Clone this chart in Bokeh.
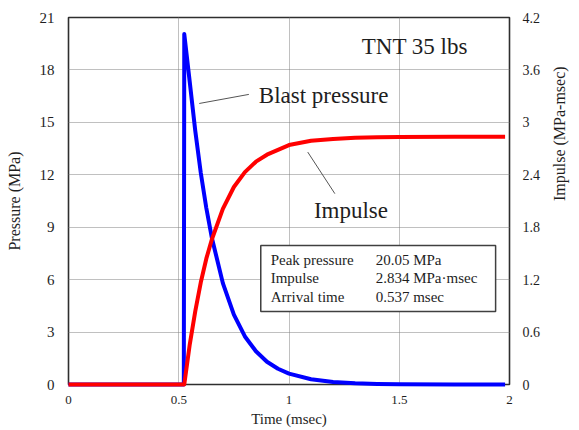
import math
from bokeh.plotting import figure
from bokeh.models import Range1d, LinearAxis, FixedTicker, Label, BoxAnnotation, Arrow
from bokeh.embed import file_html
from bokeh.resources import INLINE

# ---- data ----
time_p = [0.0, 0.523, 0.525, 0.55, 0.575, 0.6, 0.625, 0.65, 0.7, 0.75, 0.8,
          0.85, 0.9, 0.95, 1.0, 1.1, 1.2, 1.3, 1.4, 1.5, 1.75, 1.98]
pressure = [0, 0, 20.05, 17.3, 14.5, 12.1, 10.1, 8.4, 5.8, 4.0, 2.75,
            1.9, 1.3, 0.9, 0.62, 0.3, 0.14, 0.07, 0.03, 0.01, 0, 0]
time_i = [0.0, 0.525, 0.55, 0.575, 0.6, 0.625, 0.65, 0.7, 0.75, 0.8, 0.85,
          0.9, 1.0, 1.1, 1.2, 1.3, 1.4, 1.5, 1.75, 1.98]
impulse = [0, 0, 0.46, 0.84, 1.17, 1.44, 1.66, 2.01, 2.26, 2.43, 2.55,
           2.63, 2.74, 2.79, 2.81, 2.825, 2.83, 2.832, 2.834, 2.834]

x_ticks = [0, 0.5, 1, 1.5, 2]
x_tick_labels = ["0", "0.5", "1", "1.5", "2"]
p_ticks = [0, 3, 6, 9, 12, 15, 18, 21]
p_tick_labels = ["0", "3", "6", "9", "12", "15", "18", "21"]
i_ticks = [0, 0.6, 1.2, 1.8, 2.4, 3.0, 3.6, 4.2]
i_tick_labels = ["0", "0.6", "1.2", "1.8", "2.4", "3", "3.6", "4.2"]

info_names = ["Peak pressure", "Impulse", "Arrival time"]
info_values = ["20.05  MPa", "2.834  MPa\u00b7msec", "0.537  msec"]

FONT = "Liberation Serif"
TXT = "#1e1e1e"

p = figure(width=579, height=430, output_backend="svg", toolbar_location=None,
           x_range=Range1d(0, 2), y_range=Range1d(0, 21),
           min_border_left=68, min_border_right=66, min_border_top=17,
           min_border_bottom=46)
p.extra_y_ranges = {"imp": Range1d(0, 4.2)}
p.background_fill_color = "white"
p.border_fill_color = "white"
p.outline_line_color = "#2e2e2e"
p.outline_line_width = 1.6

# axes
xa = p.xaxis[0]
xa.ticker = FixedTicker(ticks=x_ticks)
xa.major_label_overrides = dict(zip(x_ticks, x_tick_labels))
ya = p.yaxis[0]
ya.ticker = FixedTicker(ticks=p_ticks)
ya.major_label_overrides = dict(zip(p_ticks, p_tick_labels))
ra = LinearAxis(y_range_name="imp", ticker=FixedTicker(ticks=i_ticks))
ra.major_label_overrides = dict(zip(i_ticks, i_tick_labels))
p.add_layout(ra, "right")

for ax, size, standoff in [(xa, "13px", 11), (ya, "15px", 14), (ra, "14px", 13)]:
    ax.axis_line_color = None
    ax.major_tick_line_color = None
    ax.minor_tick_line_color = None
    ax.major_tick_out = 0
    ax.major_tick_in = 0
    ax.major_label_text_font = FONT
    ax.major_label_text_font_size = size
    ax.major_label_text_color = TXT
    ax.major_label_standoff = standoff
    ax.axis_label_text_font = FONT
    ax.axis_label_text_font_style = "normal"
    ax.axis_label_text_color = TXT

xa.axis_label = "Time (msec)"
xa.axis_label_text_font_size = "15px"
xa.axis_label_standoff = 4
ya.axis_label = "Pressure (MPa)"
ya.axis_label_text_font_size = "16px"
ya.axis_label_standoff = 14
ra.axis_label = "Impulse (MPa-msec)"
ra.axis_label_text_font_size = "16px"
ra.axis_label_standoff = 16
try:
    ra.axis_label_orientation = math.pi / 2
except Exception:
    pass

# grid
p.xgrid.ticker = FixedTicker(ticks=x_ticks)
p.ygrid.ticker = FixedTicker(ticks=p_ticks)
for g in (p.xgrid[0], p.ygrid[0]):
    g.grid_line_color = "#808080"
    g.grid_line_dash = "1 1"
    g.grid_line_width = 1

# curves
p.line(time_p, pressure, line_color="#0000ff", line_width=4, line_join="round",
       level="annotation")
p.line(time_i, impulse, y_range_name="imp", line_color="#ff0000", line_width=4,
       line_join="round", level="annotation")

# annotations
p.add_layout(Label(x=1.33, y=19.35, text="TNT 35 lbs", text_baseline="middle",
                   text_font=FONT, text_font_size="23px", text_color=TXT))
p.add_layout(Label(x=0.863, y=16.54, text="Blast pressure", text_baseline="middle",
                   text_font=FONT, text_font_size="23px", text_color=TXT))
p.add_layout(Label(x=1.113, y=9.96, text="Impulse", text_baseline="middle",
                   text_font=FONT, text_font_size="23px", text_color=TXT))
p.add_layout(Arrow(x_start=0.593, y_start=16.08, x_end=0.818, y_end=16.6, end=None,
                   line_color="#555555", line_width=1))
p.add_layout(Arrow(x_start=1.085, y_start=13.3, x_end=1.208, y_end=10.92, end=None,
                   line_color="#555555", line_width=1))

p.add_layout(BoxAnnotation(left=0.872, right=1.937, bottom=4.18, top=7.96,
                           fill_color="white", fill_alpha=1.0,
                           line_color="#404040", line_alpha=1.0, line_width=1.5))
row_y = [7.10, 6.07, 5.01]
for name, val, yy in zip(info_names, info_values, row_y):
    p.add_layout(Label(x=0.917, y=yy, text=name, text_baseline="middle",
                       text_font=FONT, text_font_size="15px", text_color=TXT))
    p.add_layout(Label(x=1.393, y=yy, text=val, text_baseline="middle",
                       text_font=FONT, text_font_size="15px", text_color=TXT))

open("out.html", "w").write(file_html(p, INLINE))
